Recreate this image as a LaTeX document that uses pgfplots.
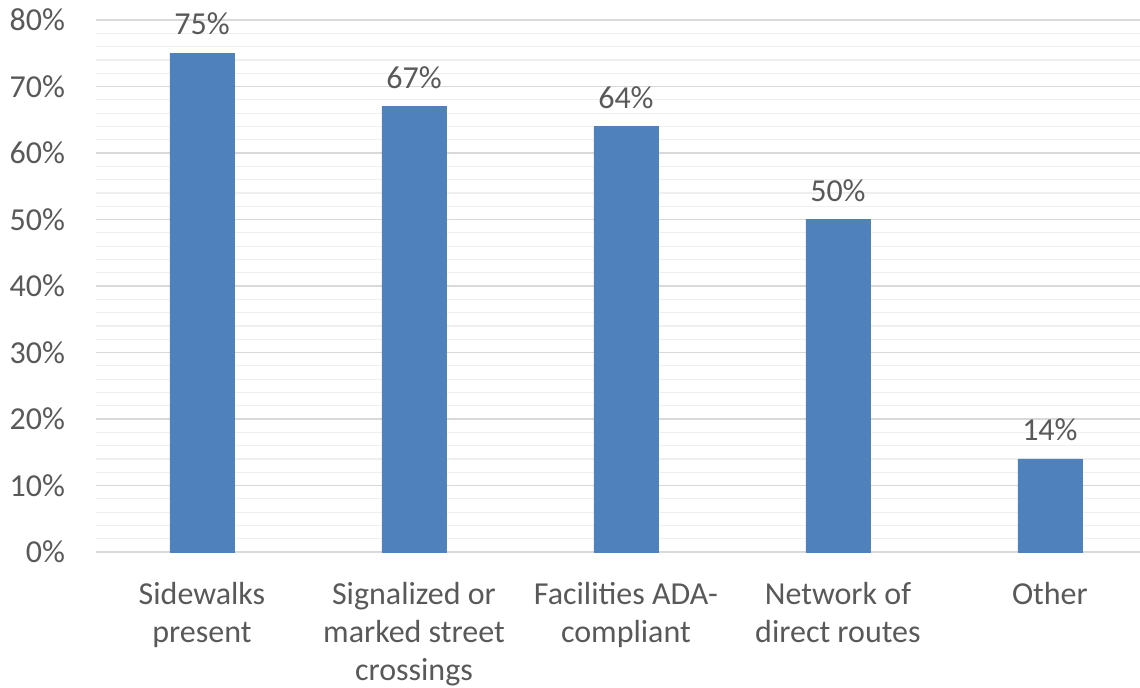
\documentclass[border=0pt]{standalone}
\usepackage{pgfplots}
\pgfplotsset{compat=1.18}
\usepackage{fontspec}
\setmainfont{Carlito}
\definecolor{barblue}{HTML}{4F81BD}
\definecolor{txt}{HTML}{595959}
\definecolor{majg}{HTML}{D9D9D9}
\definecolor{ming}{HTML}{EFEFEF}
\begin{document}
\begin{tikzpicture}
\useasboundingbox (-48pt,-67.5pt) rectangle (522pt,276pt);
\begin{axis}[
  at={(0,0)}, anchor=south west,
  scale only axis,
  width=522pt, height=266pt,
  ybar, bar width=32pt,
  xmin=-0.5, xmax=4.425,
  ymin=0, ymax=80,
  ytick={0,10,...,80},
  minor y tick num=4,
  ymajorgrids, yminorgrids,
  major grid style={majg, line width=0.8pt},
  minor grid style={ming, line width=0.6pt},
  major tick length=0pt, minor tick length=0pt,
  axis line style={draw=none},
  xtick={0,1,2,3,4},
  xticklabels={Sidewalks\\present, Signalized or\\marked street\\crossings, Facilities ADA-\\compliant, Network of\\direct routes, Other},
  xticklabel style={align=center, font=\fontsize{16pt}{19pt}\selectfont, text=txt, yshift=-11.5pt},
  yticklabel={\pgfmathprintnumber{\tick}\%},
  yticklabel style={font=\fontsize{16pt}{19pt}\selectfont, text=txt, xshift=-12pt},
  /pgf/number format/assume math mode=true,
  nodes near coords={\pgfmathprintnumber{\pgfplotspointmeta}\%},
  nodes near coords style={font=\fontsize{16pt}{19pt}\selectfont, text=txt, yshift=5.5pt},
  clip=false,
]
\addplot[fill=barblue, draw=barblue] coordinates {(0,75) (1,67) (2,64) (3,50) (4,14)};
\end{axis}
\end{tikzpicture}
\end{document}
